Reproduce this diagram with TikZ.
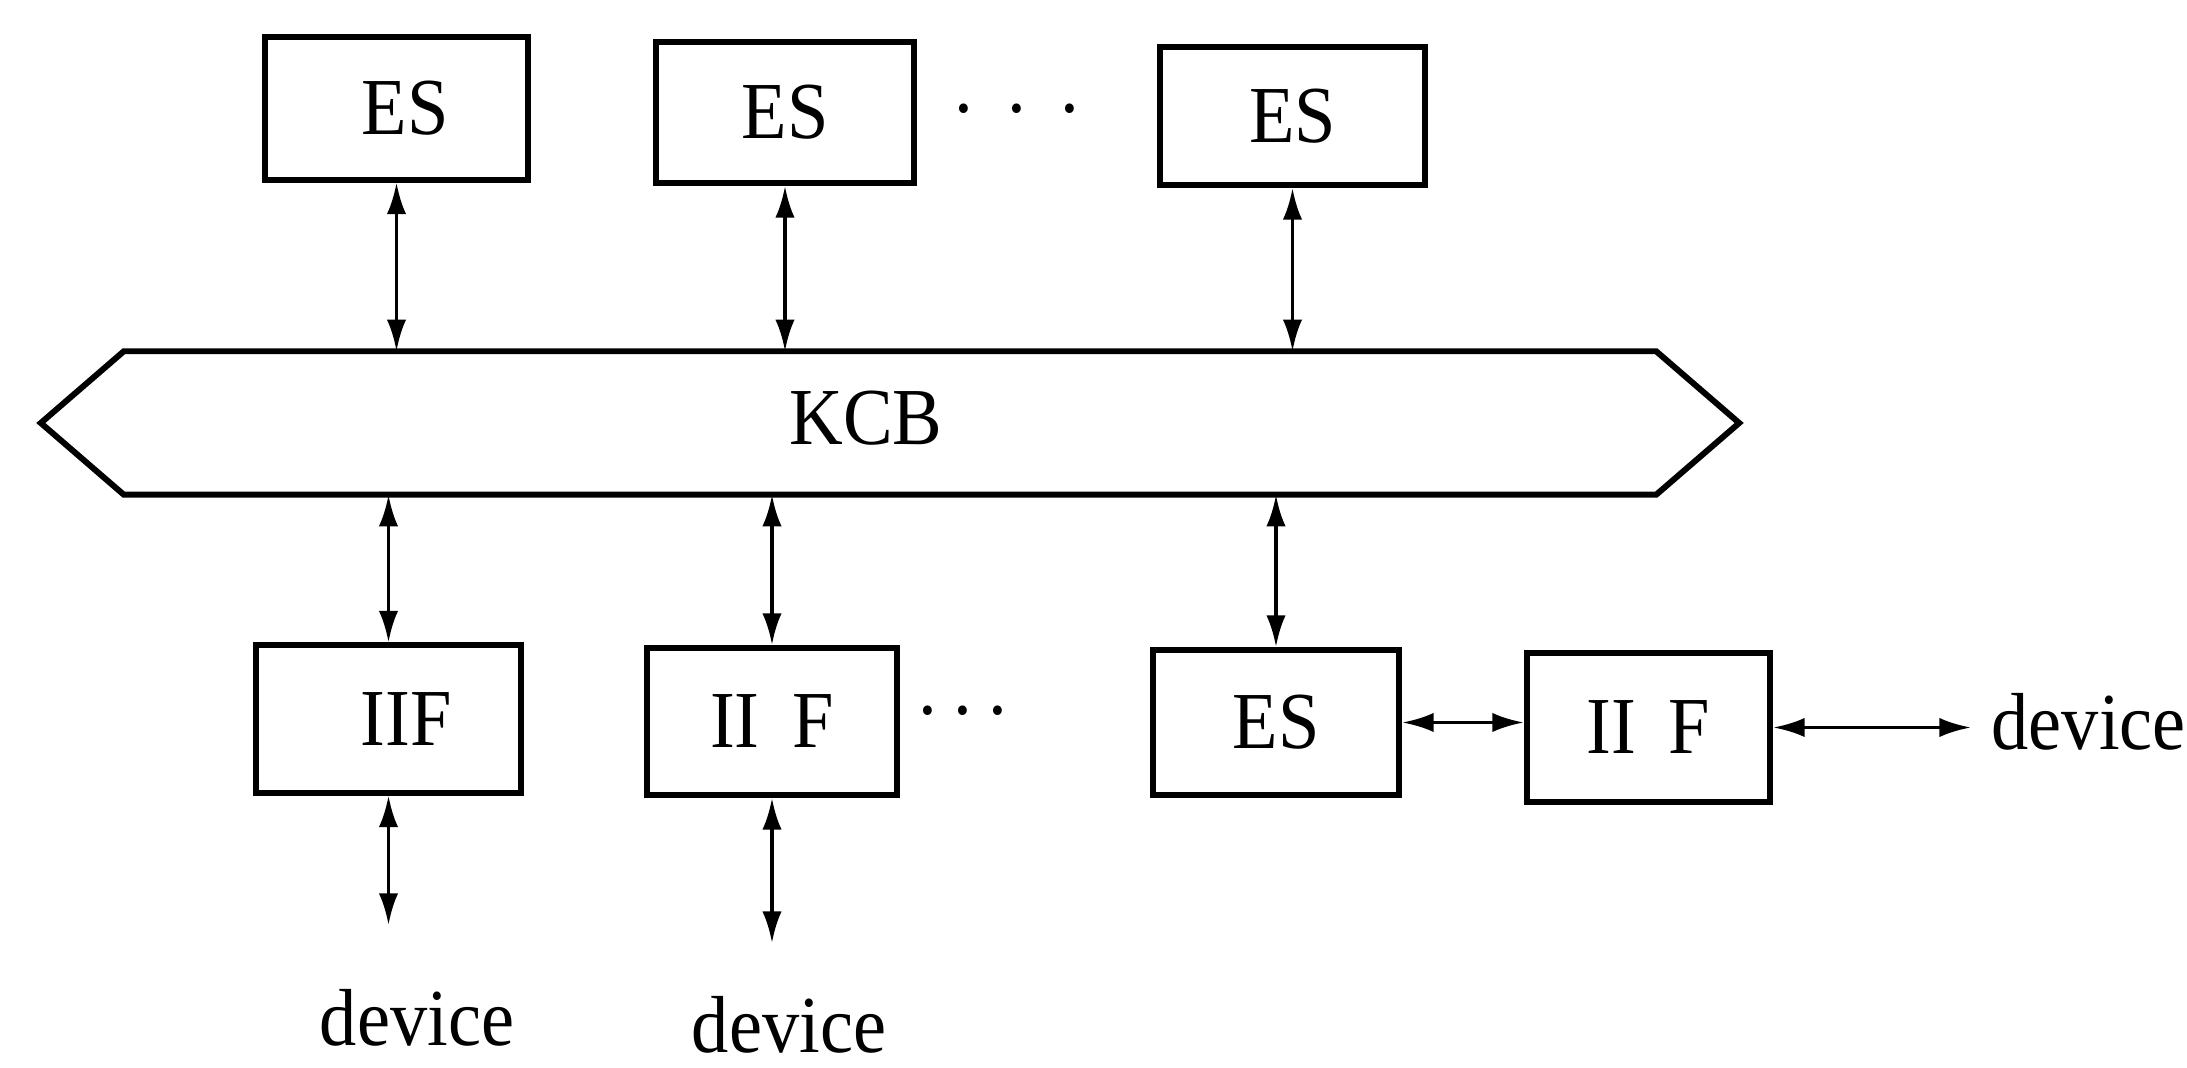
\documentclass[tikz,border=0pt]{standalone}
\usepackage{fontspec}
\setmainfont{Liberation Serif}[FakeStretch=0.92]
\usetikzlibrary{arrows.meta}
\begin{document}
\begin{tikzpicture}[x=0.01cm,y=-0.01cm,
  font=\fontsize{23}{27}\selectfont,
  box/.style={draw, line width=1.7pt, inner sep=0pt},
  biarr/.style={line width=1.1pt, {Latex[length=9pt,width=5.5pt]}-{Latex[length=9pt,width=5.5pt]}},
  dots/.style={anchor=base, inner sep=0pt},
  lbl/.style={inner sep=0pt}]
\useasboundingbox (0,0) rectangle (2187,1068);
% top ES boxes
\node[box, minimum width=2.62cm, minimum height=1.42cm] (es1) at (396.5,108.5) {\hspace{5pt}ES};
\node[box, minimum width=2.58cm, minimum height=1.41cm] (es2) at (785,112.5) {ES};
\node[box, minimum width=2.65cm, minimum height=1.38cm] (es3) at (1292.5,116) {ES};
\node[dots] (dtop) at (1017,136) {\textperiodcentered\hspace{8pt}\textperiodcentered\hspace{8pt}\textperiodcentered};
% KCB bus
\node[inner sep=0pt, minimum width=15.3cm, minimum height=1.42cm] (kcb) at (890,423) {};
\draw[line width=1.7pt, line join=miter]
  (kcb.north west) -- (kcb.north east) -- ([xshift=0.83cm]kcb.east)
  -- (kcb.south east) -- (kcb.south west) -- ([xshift=-0.83cm]kcb.west) -- cycle;
\node[lbl] (kcbt) at (866,418) {KCB};
% bottom boxes
\node[box, minimum width=2.65cm, minimum height=1.47cm] (iif1) at (388.5,719) {\hspace{10pt}IIF};
\node[box, minimum width=2.50cm, minimum height=1.47cm] (iif2) at (772,721.5) {II\hspace{4pt} F};
\node[dots] (dbot) at (963,738) {\textperiodcentered\hspace{3pt}\textperiodcentered\hspace{3pt}\textperiodcentered};
\node[box, minimum width=2.46cm, minimum height=1.45cm] (es4) at (1276,722.5) {ES};
\node[box, minimum width=2.43cm, minimum height=1.49cm] (iif3) at (1648.5,727.5) {II\hspace{4pt} F};
% device labels
\coordinate (d1) at (400,925);
\coordinate (d2) at (779,943);
\coordinate (dr) at (1971,724);
\node[lbl, anchor=base] (dev1) at (417,1046) {device};
\node[lbl, anchor=base] (dev2) at (789,1053) {device};
\node[lbl, anchor=base west] (dev3) at (1991,750) {device};
% connectors
\draw[biarr] (es1.south) -- (es1.south |- kcb.north);
\draw[biarr] (es2.south) -- (es2.south |- kcb.north);
\draw[biarr] (es3.south) -- (es3.south |- kcb.north);
\draw[biarr] (kcb.south -| iif1.north) -- (iif1.north);
\draw[biarr] (kcb.south -| iif2.north) -- (iif2.north);
\draw[biarr] (kcb.south -| es4.north) -- (es4.north);
\draw[biarr] (iif1.south) -- (iif1.south |- d1);
\draw[biarr] (iif2.south) -- (iif2.south |- d2);
\draw[biarr] (es4.east) -- (es4.east -| iif3.west);
\draw[biarr] (iif3.east) -- (iif3.east -| dr);
\end{tikzpicture}
\end{document}
